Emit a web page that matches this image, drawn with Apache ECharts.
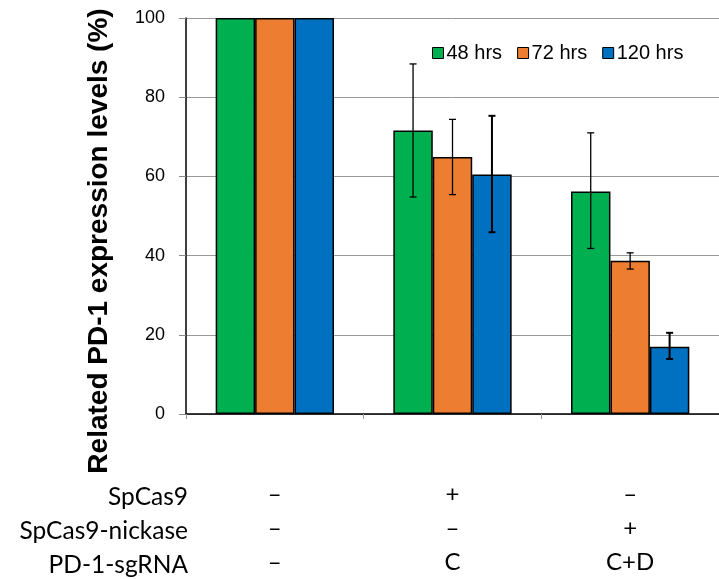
<!DOCTYPE html>
<html>
<head>
<meta charset="utf-8">
<script src="https://cdn.jsdelivr.net/npm/echarts@6/dist/echarts.min.js"></script>
<style>
html,body{margin:0;padding:0;background:#fff;}
#c{width:719px;height:579px;}
</style>
</head>
<body>
<div id="c"></div>
<script>
// ---- data ----
const categories = ['G1', 'G2', 'G3'];
const seriesNames = ['48 hrs', '72 hrs', '120 hrs'];
const values48 = [100, 71.6, 56.2];
const values72 = [100, 64.9, 38.7];
const values120 = [100, 60.5, 17.0];
// error bars: [categoryIndex, low, high]
const err48 = [[1, 54.8, 88.4], [2, 41.8, 71.0]];
const err72 = [[1, 55.4, 74.4], [2, 36.6, 40.7]];
const err120 = [[1, 45.9, 75.3], [2, 13.9, 20.5]];
const yTicks = [0, 20, 40, 60, 80, 100];
const rowLabels = ['SpCas9', 'SpCas9-nickase', 'PD-1-sgRNA'];
const rowSpCas9 = ['–', '+', '–'];
const rowNickase = ['–', '–', '+'];
const rowSgRNA = ['–', 'C', 'C+D'];
const yTitle = 'Related PD-1 expression levels (%)';

const colors = ['#00B050', '#ED7D31', '#0070C0'];
const CAT_GAP = 0.334;
const tableFont = 'Lato, "Open Sans", sans-serif';
const numFont = '"Liberation Sans", Arial, sans-serif';

const chart = echarts.init(document.getElementById('c'));

function errSeries(data, idx, lw) {
  return {
    type: 'custom',
    name: 'err' + idx,
    z: 10,
    encode: { x: 0, y: [1, 2] },
    data: data,
    renderItem: function (params, api) {
      const cat = api.value(0);
      const lo = api.coord([cat, api.value(1)]);
      const hi = api.coord([cat, api.value(2)]);
      const band = api.size([1, 0])[0];
      const barW = band * (1 - CAT_GAP) / 3;
      const x = lo[0] + (idx - 1) * barW;
      const cap = 3.5;
      const style = { stroke: '#000', lineWidth: lw };
      return {
        type: 'group',
        children: [
          { type: 'line', shape: { x1: x, y1: lo[1], x2: x, y2: hi[1] }, style: style },
          { type: 'line', shape: { x1: x - cap, y1: lo[1], x2: x + cap, y2: lo[1] }, style: style },
          { type: 'line', shape: { x1: x - cap, y1: hi[1], x2: x + cap, y2: hi[1] }, style: style }
        ]
      };
    }
  };
}

function barSeries(name, data, color) {
  return {
    type: 'bar',
    name: name,
    data: data,
    barGap: '0%',
    barCategoryGap: (CAT_GAP * 100) + '%',
    itemStyle: { color: color, borderColor: '#000', borderWidth: 1.5 }
  };
}

const option = {
  animation: false,
  grid: { left: 186, right: 0, top: 18, bottom: 162, containLabel: false },
  legend: {
    data: seriesNames,
    left: 427,
    top: 38,
    itemWidth: 11,
    itemHeight: 11,
    itemGap: 15,
    icon: 'rect',
    itemStyle: { borderColor: '#000', borderWidth: 1 },
    textStyle: { fontFamily: numFont, fontSize: 20, color: '#000', padding: [0, 0, 0, -2] }
  },
  xAxis: {
    type: 'category',
    data: categories,
    axisLine: { lineStyle: { color: '#000', width: 1.5 } },
    axisTick: { show: true, length: 5, lineStyle: { color: '#999' } },
    axisLabel: {
      margin: 63,
      fontFamily: tableFont,
      fontSize: 24,
      lineHeight: 34,
      color: '#000',
      formatter: function (v, i) {
        return rowSpCas9[i] + '\n' + rowNickase[i] + '\n' + rowSgRNA[i];
      }
    }
  },
  yAxis: {
    type: 'value',
    min: yTicks[0],
    max: yTicks[yTicks.length - 1],
    interval: yTicks[1] - yTicks[0],
    axisLine: { show: true, lineStyle: { color: '#000', width: 1.5 } },
    axisTick: { show: true, length: 7, lineStyle: { color: '#888' } },
    axisLabel: { margin: 21, fontFamily: numFont, fontSize: 18, color: '#000' },
    splitLine: { lineStyle: { color: '#999', width: 1 } }
  },
  graphic: [
    {
      type: 'text',
      x: 99, y: 241,
      rotation: Math.PI / 2,
      style: {
        text: yTitle,
        fontFamily: numFont, fontWeight: 'bold', fontSize: 28, fill: '#000',
        align: 'center', verticalAlign: 'middle'
      }
    },
    ...rowLabels.map(function (t, i) {
      return {
        type: 'text',
        x: 188, y: 497 + i * 34,
        style: {
          text: t, fontFamily: tableFont, fontSize: 24.5, fill: '#000',
          align: 'right', verticalAlign: 'middle'
        }
      };
    })
  ],
  series: [
    barSeries(seriesNames[0], values48, colors[0]),
    barSeries(seriesNames[1], values72, colors[1]),
    barSeries(seriesNames[2], values120, colors[2]),
    errSeries(err48, 0, 1.3),
    errSeries(err72, 1, 1.3),
    errSeries(err120, 2, 2)
  ]
};
chart.setOption(option);
</script>
</body>
</html>
